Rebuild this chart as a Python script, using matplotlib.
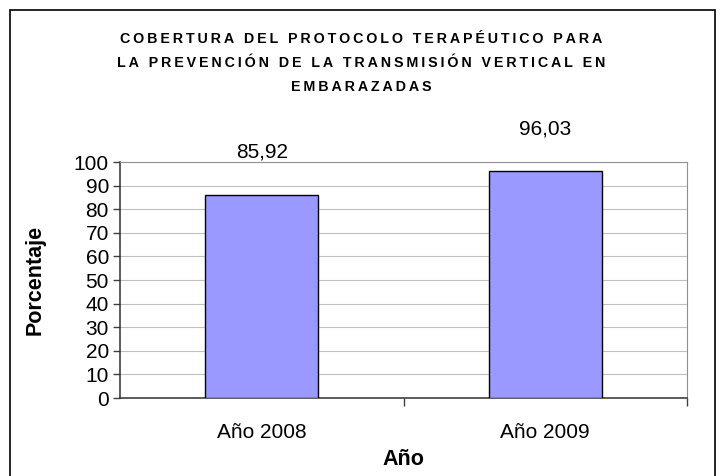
import matplotlib.pyplot as plt
from matplotlib.patches import Rectangle

# data
years = ['Año 2008', 'Año 2009']
coverage = [85.92, 96.03]
y_ticks = list(range(0, 101, 10))
title_lines = ['COBERTURA DEL PROTOCOLO TERAPÉUTICO PARA',
               'LA PREVENCIÓN DE LA TRANSMISIÓN VERTICAL EN',
               'EMBARAZADAS']

plt.rcParams['font.family'] = ['Liberation Sans', 'DejaVu Sans']

fig = plt.figure(figsize=(7.23, 4.76), dpi=100)
ax = fig.add_axes([120 / 723, 78 / 476, 567 / 723, 236 / 476])

x = list(range(len(years)))
ax.bar(x, coverage, width=0.4, color='#9999FF', edgecolor='black',
       linewidth=1.0, zorder=3)

# value labels with comma decimals
for xi, v in zip(x, coverage):
    ax.annotate(f'{v:.2f}'.replace('.', ','), (xi, v), xytext=(0, 24),
                textcoords='offset points', ha='center', va='bottom',
                fontsize=15, annotation_clip=False)

ax.set_xlim(-0.5, len(years) - 0.5)
ax.set_ylim(0, 100)
ax.set_yticks(y_ticks)
ax.tick_params(axis='y', labelsize=15, length=5, width=1, direction='out',
               color='#404040', pad=3)

# category labels centred, tick marks on the boundaries
ax.set_xticks([i + 0.5 for i in x])
ax.set_xticklabels([])
ax.set_xticks(x, minor=True)
ax.set_xticklabels(years, minor=True, fontsize=15)
ax.tick_params(axis='x', which='major', length=6, width=1,
               direction='out', color='#404040')
ax.tick_params(axis='x', which='minor', length=0, pad=18)

ax.yaxis.grid(True, color='#c0c0c0', linewidth=0.8, zorder=0)
ax.set_axisbelow(True)
for side in ['top', 'right']:
    ax.spines[side].set_color('#909090')
for side in ['left', 'bottom']:
    ax.spines[side].set_color('#303030')
    ax.spines[side].set_linewidth(1.1)

ax.set_ylabel('Porcentaje', fontsize=15.5, fontweight='bold', labelpad=20)
ax.set_xlabel('Año', fontsize=15.5, fontweight='bold', labelpad=5)

# spaced-out title like the original
thin = '\u2009'
for i, line in enumerate(title_lines):
    fig.text(0.5, 1 - (39 + 24 * i) / 476, thin.join(line), ha='center',
             va='center', fontsize=10.3, fontweight='heavy')

# outer chart border
fig.patches.append(Rectangle((10 / 723, -0.01), 705 / 723, 1 - 10 / 476 + 0.01,
                             transform=fig.transFigure, fill=False,
                             edgecolor='black', linewidth=1.2))

fig.savefig('out.png', dpi=100, facecolor='white')
